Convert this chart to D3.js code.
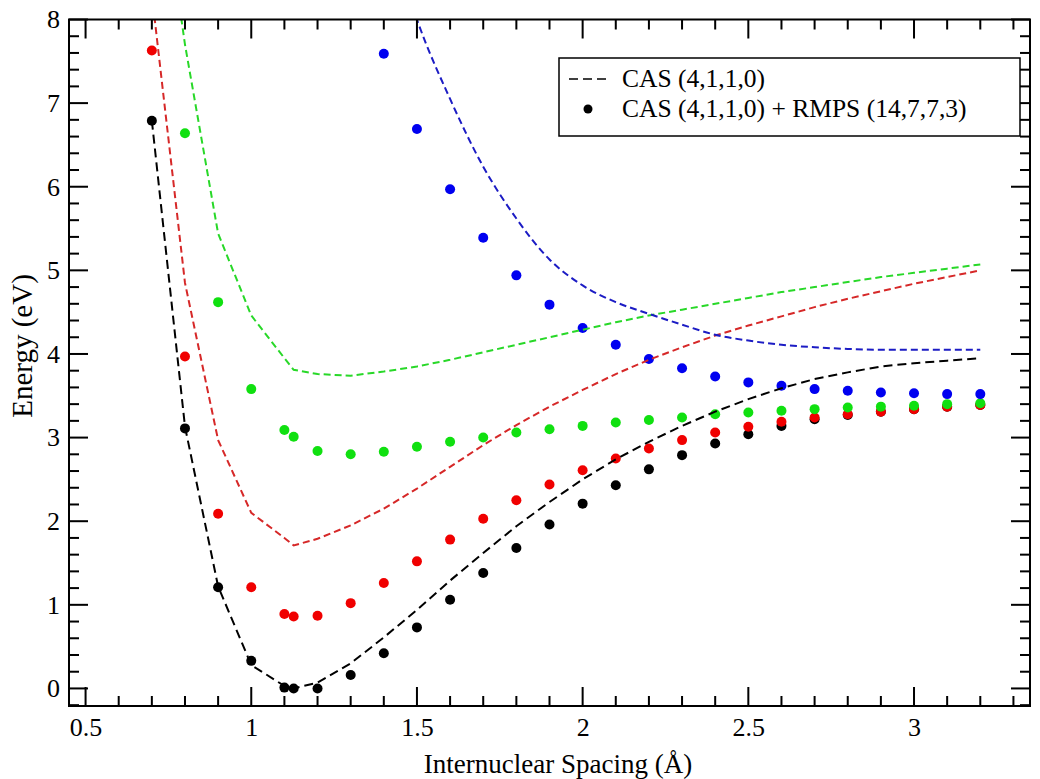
<!DOCTYPE html>
<html>
<head>
<meta charset="utf-8">
<script src="https://cdn.jsdelivr.net/npm/d3@7"></script>
<style>
  body { margin: 0; background: #fff; }
  svg text { font-family: "Liberation Serif", "Times New Roman", serif; fill: #000; }
</style>
</head>
<body>
<div id="chart"></div>
<script>
// internuclear spacing (Å) shared by every series
const spacing = [0.7, 0.8, 0.9, 1.0, 1.1, 1.128, 1.2, 1.3, 1.4, 1.5, 1.6, 1.7, 1.8, 1.9,
  2.0, 2.1, 2.2, 2.3, 2.4, 2.5, 2.6, 2.7, 2.8, 2.9, 3.0, 3.1, 3.2];

// CAS (4,1,1,0) dashed curves, eV
const casBlack = [6.79, 3.13, 1.22, 0.28, 0.03, 0.0, 0.07, 0.30, 0.61, 0.94, 1.29, 1.62, 1.94, 2.23,
  2.50, 2.74, 2.95, 3.14, 3.31, 3.46, 3.59, 3.70, 3.78, 3.85, 3.89, 3.92, 3.95];
const casRed = [8.3, 4.85, 2.97, 2.10, 1.80, 1.71, 1.79, 1.95, 2.15, 2.39, 2.65, 2.91, 3.15, 3.37,
  3.57, 3.76, 3.93, 4.08, 4.22, 4.34, 4.45, 4.56, 4.66, 4.75, 4.84, 4.92, 5.00];
const casGreen = [10.5, 7.7, 5.44, 4.46, 3.95, 3.81, 3.76, 3.74, 3.79, 3.85, 3.93, 4.02, 4.11, 4.20,
  4.29, 4.38, 4.46, 4.53, 4.60, 4.67, 4.74, 4.80, 4.86, 4.92, 4.97, 5.02, 5.07];
const casBlue = [null, null, null, null, null, null, null, null, 9.3, 8.0, 7.05, 6.24, 5.62, 5.13,
  4.82, 4.62, 4.48, 4.35, 4.23, 4.16, 4.11, 4.08, 4.06, 4.05, 4.05, 4.05, 4.05];

// CAS (4,1,1,0) + RMPS (14,7,7,3) dots, eV
const rmpsBlack = [6.79, 3.11, 1.21, 0.33, 0.01, 0.0, 0.0, 0.16, 0.42, 0.73, 1.06, 1.38, 1.68, 1.96,
  2.21, 2.43, 2.62, 2.79, 2.93, 3.04, 3.14, 3.22, 3.27, 3.31, 3.34, 3.37, 3.39];
const rmpsRed = [7.63, 3.97, 2.09, 1.21, 0.89, 0.86, 0.87, 1.02, 1.26, 1.52, 1.78, 2.03, 2.25, 2.44,
  2.61, 2.75, 2.87, 2.97, 3.06, 3.13, 3.19, 3.24, 3.28, 3.31, 3.34, 3.37, 3.39];
const rmpsGreen = [null, 6.64, 4.62, 3.58, 3.09, 3.01, 2.84, 2.80, 2.83, 2.89, 2.95, 3.00, 3.06, 3.10,
  3.14, 3.18, 3.21, 3.24, 3.28, 3.30, 3.32, 3.34, 3.36, 3.37, 3.38, 3.40, 3.41];
const rmpsBlue = [null, null, null, null, null, null, null, null, 7.59, 6.69, 5.97, 5.39, 4.94, 4.59,
  4.31, 4.11, 3.94, 3.83, 3.73, 3.66, 3.62, 3.58, 3.56, 3.54, 3.53, 3.52, 3.52];

const xTicks = [0.5, 1, 1.5, 2, 2.5, 3];
const yTicks = [0, 1, 2, 3, 4, 5, 6, 7, 8];
const xMinor = [0.6, 0.7, 0.8, 0.9, 1.1, 1.2, 1.3, 1.4, 1.6, 1.7, 1.8, 1.9,
  2.1, 2.2, 2.3, 2.4, 2.6, 2.7, 2.8, 2.9, 3.1, 3.2, 3.3];
const yMinor = [-0.2, 0.2, 0.4, 0.6, 0.8, 1.2, 1.4, 1.6, 1.8, 2.2, 2.4, 2.6, 2.8,
  3.2, 3.4, 3.6, 3.8, 4.2, 4.4, 4.6, 4.8, 5.2, 5.4, 5.6, 5.8, 6.2, 6.4, 6.6, 6.8,
  7.2, 7.4, 7.6, 7.8];
const legendLabels = ["CAS (4,1,1,0)", "CAS (4,1,1,0) + RMPS (14,7,7,3)"];

class EnergyChart {
  constructor({ el }) {
    this.el = el;
    this.init();
  }

  init() {
    this.width = 1040;
    this.height = 779;
    this.margin = { top: 19.5, right: 10, bottom: 73, left: 69 };
    this.majorTick = 19;
    this.minorTick = 10;

    this.x = d3.scaleLinear()
      .domain([0.45, 3.35])
      .range([this.margin.left, this.width - this.margin.right]);
    this.y = d3.scaleLinear()
      .domain([-0.21, 8])
      .range([this.height - this.margin.bottom, this.margin.top]);

    // dashed curves sit on top of the dots
    this.lines = [
      { values: casRed, color: "#d62828", dash: "7,4", width: 2, curve: d3.curveLinear },
      { values: casGreen, color: "#28d828", dash: "7,4", width: 2, curve: d3.curveLinear },
      { values: casBlue, color: "#1c1cc4", dash: "7,4", width: 2, curve: d3.curveMonotoneX },
      { values: casBlack, color: "#000", dash: "9,5", width: 2, curve: d3.curveLinear },
    ];
    this.dots = [
      { values: rmpsBlack, color: "#000" },
      { values: rmpsRed, color: "#f00000" },
      { values: rmpsGreen, color: "#10e010" },
      { values: rmpsBlue, color: "#0000f0" },
    ];

    this.svg = d3.select(this.el).append("svg")
      .attr("width", this.width)
      .attr("height", this.height);

    this.svg.append("clipPath").attr("id", "plot-clip")
      .append("rect")
      .attr("x", this.x.range()[0])
      .attr("y", this.y.range()[1])
      .attr("width", this.x.range()[1] - this.x.range()[0])
      .attr("height", this.y.range()[0] - this.y.range()[1]);

    this.render();
  }

  render() {
    this.renderDots();
    this.renderLines();
    this.renderAxes();
    this.renderLegend();
  }

  renderAxes() {
    const [x0, x1] = this.x.range();
    const [y0, y1] = this.y.range();

    // inward ticks on all four sides
    const xDefs = [
      ...xMinor.map((v) => ({ v, len: this.minorTick })),
      ...xTicks.map((v) => ({ v, len: this.majorTick })),
    ];
    const yDefs = [
      ...yMinor.map((v) => ({ v, len: this.minorTick })),
      ...yTicks.map((v) => ({ v, len: this.majorTick })),
    ];
    const gTicks = this.svg.append("g").attr("class", "ticks").attr("fill", "#000");
    gTicks.selectAll(".xb").data(xDefs).join("rect").attr("class", "xb")
      .attr("x", (d) => this.x(d.v) - 1).attr("width", 2)
      .attr("y", (d) => y0 - d.len).attr("height", (d) => d.len);
    gTicks.selectAll(".xt").data(xDefs).join("rect").attr("class", "xt")
      .attr("x", (d) => this.x(d.v) - 1).attr("width", 2)
      .attr("y", y1).attr("height", (d) => d.len);
    gTicks.selectAll(".yl").data(yDefs).join("rect").attr("class", "yl")
      .attr("y", (d) => this.y(d.v) - 1).attr("height", 2)
      .attr("x", x0).attr("width", (d) => d.len);
    gTicks.selectAll(".yr").data(yDefs).join("rect").attr("class", "yr")
      .attr("y", (d) => this.y(d.v) - 1).attr("height", 2)
      .attr("x", (d) => x1 - d.len).attr("width", (d) => d.len);

    // labels from d3 axes, tick lines removed
    const xAxis = this.svg.append("g")
      .attr("transform", `translate(0,${y0})`)
      .call(d3.axisBottom(this.x).tickValues(xTicks).tickSize(0).tickPadding(12).tickFormat((d) => String(d)));
    const yAxis = this.svg.append("g")
      .attr("transform", `translate(${x0},0)`)
      .call(d3.axisLeft(this.y).tickValues(yTicks).tickSize(0).tickPadding(9).tickFormat((d) => String(d)));
    [xAxis, yAxis].forEach((g) => {
      g.attr("font-family", null).attr("font-size", null);
      g.select(".domain").remove();
      g.selectAll(".tick line").remove();
      g.selectAll(".tick text").attr("font-size", 26).attr("fill", "#000");
    });

    this.svg.append("rect")
      .attr("x", x0).attr("y", y1)
      .attr("width", x1 - x0).attr("height", y0 - y1)
      .attr("fill", "none").attr("stroke", "#000").attr("stroke-width", 2);

    this.svg.append("text")
      .attr("x", 558).attr("y", 773)
      .attr("text-anchor", "middle").attr("font-size", 27)
      .text("Internuclear Spacing (Å)");

    this.svg.append("text")
      .attr("transform", "translate(32,346) rotate(-90)")
      .attr("text-anchor", "middle").attr("font-size", 29)
      .text("Energy (eV)");
  }

  renderLines() {
    const g = this.svg.append("g").attr("clip-path", "url(#plot-clip)");
    g.selectAll(".cas")
      .data(this.lines)
      .join("path")
      .attr("class", "cas")
      .attr("fill", "none")
      .attr("stroke", (d) => d.color)
      .attr("stroke-width", (d) => d.width)
      .attr("stroke-dasharray", (d) => d.dash)
      .attr("d", (d) => d3.line()
        .defined((q) => q[1] != null)
        .curve(d.curve)
        .x((q) => this.x(q[0]))
        .y((q) => this.y(q[1]))(spacing.map((s, i) => [s, d.values[i]])));
  }

  renderDots() {
    const g = this.svg.append("g").attr("clip-path", "url(#plot-clip)");
    this.dots.forEach((series) => {
      g.append("g")
        .selectAll("circle")
        .data(spacing.map((s, i) => [s, series.values[i]]).filter((d) => d[1] != null))
        .join("circle")
        .attr("cx", (d) => this.x(d[0]))
        .attr("cy", (d) => this.y(d[1]))
        .attr("r", 5)
        .attr("fill", series.color);
    });
  }

  renderLegend() {
    const g = this.svg.append("g").attr("transform", "translate(559,58)");
    g.append("rect")
      .attr("width", 461).attr("height", 78)
      .attr("fill", "#fff").attr("stroke", "#000").attr("stroke-width", 1.5);
    g.append("line")
      .attr("x1", 10).attr("x2", 49).attr("y1", 21).attr("y2", 21)
      .attr("stroke", "#000").attr("stroke-width", 1.5).attr("stroke-dasharray", "9,5");
    g.append("circle").attr("cx", 29).attr("cy", 51).attr("r", 4.5).attr("fill", "#000");
    g.selectAll(".legend-label")
      .data(legendLabels)
      .join("text")
      .attr("class", "legend-label")
      .attr("x", 63)
      .attr("y", (d, i) => 29 + i * 30)
      .attr("font-size", 25.5)
      .text((d) => d);
  }
}

new EnergyChart({ el: document.querySelector("#chart") });
</script>
</body>
</html>
